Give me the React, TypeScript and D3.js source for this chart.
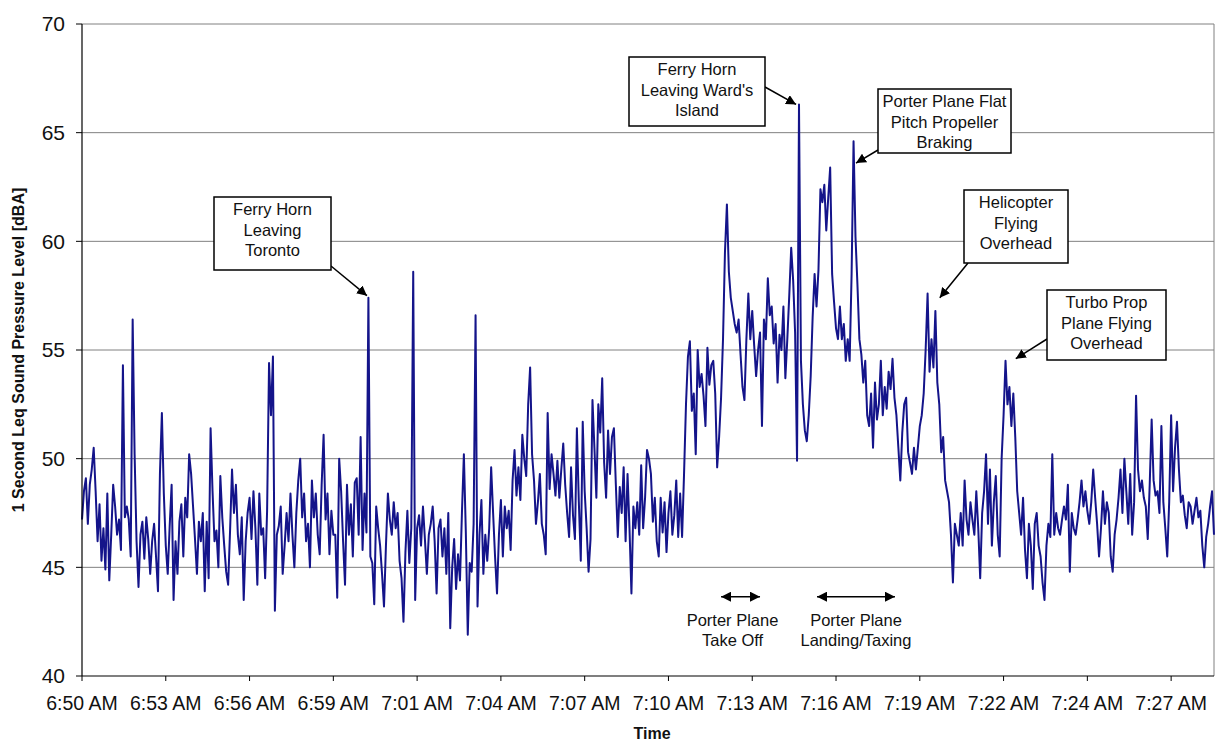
import * as d3 from 'd3';

// 1 s Leq readings, one value every 4 seconds from 6:50:00 AM
const STEP_SECONDS = 4;
const levels = [
  47.2, 48.5, 49.1, 47, 48.8, 49.5, 50.5, 48.5, 46.2, 47.9,
  45.3, 46.8, 44.9, 48.4, 44.4, 46.5, 48.8, 47.8, 46.5, 47.2,
  45.8, 54.3, 47.3, 47.8, 47.2, 45.5, 56.4, 50.2, 46.2, 44.1,
  46.5, 47.1, 45.4, 47.3, 46.3, 44.7, 46.2, 47, 45.5, 43.9,
  49.3, 52.1, 48.4, 46, 44.7, 46.9, 48.8, 43.5, 46.2, 44.7,
  47.1, 47.9, 45.5, 48.2, 47.3, 50.2, 49.3, 47.8, 46.3, 44.7,
  47.1, 46.2, 47.5, 43.9, 47.1,
  44.5, 51.4, 48.5, 46.2, 46.7, 45, 49.2, 47.3, 46, 44.8,
  44.2, 46.7, 49.5, 47.5, 48.8, 46.5, 45.6, 47.3, 43.5, 46.2,
  47.5, 48.2, 46.3, 48.5, 46.8, 44.2, 48.4, 46.5, 46.8, 44.5,
  47.6, 54.4, 52, 54.7, 43, 46.5, 46.9, 47.8, 44.7, 46,
  47.5, 46.2, 48.4, 46.5, 45, 47.5, 49, 50, 47.3, 48.4,
  46.2, 47, 45, 49, 47.3, 48.4, 46.5, 45.6, 48.8, 51.1,
  47.2, 48.4, 45.6, 47.6, 46.5,
  46.5, 43.6, 50, 48.5, 46.2, 44.2, 48.8, 46.5, 47.9, 45.5,
  48.9, 49.1, 46.5, 51, 45.8, 48.4, 46.6, 57.4, 45.5, 45.2,
  43.3, 47.8, 46.8, 46, 44.7, 43.2, 46, 48.4, 47.2, 46.5,
  48, 46.8, 47.5, 45.3, 44.5, 42.5, 45.7, 47.6, 45.2, 46.8,
  58.6, 43.5, 46.8, 47.4, 46, 47.8, 46.3, 44.7, 46.5, 47,
  47.8, 46.2, 43.8, 46.8, 47.2, 45.5, 46.8, 44.7, 47.5, 42.2,
  45, 46.3, 44, 45.6,
  44.4, 47.5, 50.2, 46.6, 41.9, 45.2, 44.8, 47, 56.6, 43.2,
  46.5, 48.1, 44.7, 46.5, 45.3, 46.8, 49.6, 47.5, 45.5, 43.8,
  46.5, 48.1, 45.5, 47.8, 46.8, 47.6, 45.8, 49, 50.4, 48.3,
  49.6, 48.1, 51.1, 50, 49.2, 52.5, 54.2, 50.2, 49, 47,
  48, 49.3, 47, 46.5, 45.6, 52.1, 48.6, 50.2, 49.3, 48.3,
  49.9, 48.2, 49.5, 50.7, 48.8, 47.5, 46.4, 49.6, 47.4, 46.3,
  51.4, 48, 45.3, 51.7, 48.5,
  46.8, 44.8, 46.3, 52.7, 50.5, 48.2, 52.5, 51.2, 53.7, 49.8,
  48.2, 51.3, 49.3, 51, 51.4, 48.8, 46.4, 48.7, 47.5, 49.6,
  46.2, 49.3, 46.8, 43.8, 47.8, 46.8, 48, 46.5, 49.7, 46.8,
  48.2, 50.4, 50, 49.3, 47.1, 48.2, 46.2, 45.5, 48.2, 46.6,
  48, 45.7, 47.5, 48.5, 46.5, 47.4, 49, 46.4, 48.4, 46.4,
  49.3, 52.5, 54.7, 55.4, 52.2, 53, 50.2, 55, 53.3, 53.9,
  52.9, 51.5, 55.1, 53.4, 54.3,
  54.5, 53, 49.6, 51, 52.8, 55.5, 59.5, 61.7, 58.6, 57.4,
  56.8, 56.2, 55.8, 56.4, 54.8, 53.3, 52.7, 55.5, 57.6, 55.5,
  56.8, 55.2, 53.8, 55, 55.8, 51.5, 56.4, 55.5, 58.3, 56.6,
  57, 55.3, 56.2, 53.5, 55.7, 55, 57, 53.7, 55.5, 57.5,
  59.7, 58.2, 55.8, 49.9, 66.3, 54.5, 52.5, 51.3, 50.8, 52,
  53.8, 56.5, 58.5, 57, 58.7, 62.4, 61.8, 62.6, 60.5, 62,
  63.4, 58.5, 57.2, 56, 55.5,
  57, 55.5, 56.2, 54.5, 55.5, 54.5, 58.5, 64.6, 60.2, 58,
  55.5, 54.8, 53.5, 54.5, 52, 51.5, 53, 50.5, 53.5, 51.8,
  52.5, 54.5, 52, 53.3, 52.3, 54, 53.2, 54.6, 52.8, 52,
  50.5, 49, 51.2, 52.5, 52.8, 50.3, 49.8, 49.3, 50.5, 49.5,
  50.5, 51.5, 52, 53, 55, 57.6, 54, 55.5, 54.2, 56.8,
  53.5, 52.5, 50.3, 51, 49, 48.5, 48, 46.5, 44.3, 47,
  46.5, 46, 47.5, 46,
  49, 47.2, 46.5, 48, 47.2, 46.5, 48.5, 46.8, 44.5, 47.5,
  48.5, 50.2, 47, 49.5, 46, 48, 49.2, 46.5, 45.5, 50,
  52, 54.5, 52.5, 53.3, 51.5, 53, 51, 48.5, 47.5, 46.5,
  48.2, 45.8, 44.5, 47, 46, 44, 47, 47.5, 46, 45.5,
  44.3, 43.5, 46, 47, 46.4, 50.2, 46.5, 47.5, 46.8, 46.5,
  47.2, 47.8, 47.2, 48.8, 44.8, 47.5, 46.8, 46.5, 47.2, 48,
  49, 47.8, 48.5, 47.6, 47,
  48, 49.5, 48.2, 47, 45.5, 46.8, 48.5, 47, 48, 47.5,
  45.5, 44.8, 46.5, 47.2, 48.2, 49.5, 47.5, 50, 48.5, 47,
  49.3, 46.5, 48, 52.9, 49.5, 48.5, 49, 48.2, 47.8, 46.3,
  48.8, 51.8, 49, 48.3, 48.5, 47.5, 51.5, 48, 46.8, 45.5,
  48, 52, 48.5, 50.5, 51.7, 49.5, 48, 48.3, 47.4, 46.8,
  48, 47.8, 47, 47.6, 48.2, 47.3, 47.6, 46, 45, 46.4,
  47, 47.8, 48.5, 46.5,
];

const timeLabels = [
  '6:50 AM', '6:53 AM', '6:56 AM', '6:59 AM', '7:01 AM', '7:04 AM', '7:07 AM',
  '7:10 AM', '7:13 AM', '7:16 AM', '7:19 AM', '7:22 AM', '7:24 AM', '7:27 AM',
];
const TICK_SECONDS = 172;
const levelTicks = [40, 45, 50, 55, 60, 65, 70];

// callout texts and the (seconds, dBA) point each arrow points at
const calloutTexts = [
  ['Ferry Horn', 'Leaving', 'Toronto'],
  ['Ferry Horn', "Leaving Ward's", 'Island'],
  ['Porter Plane Flat', 'Pitch Propeller', 'Braking'],
  ['Helicopter', 'Flying', 'Overhead'],
  ['Turbo Prop', 'Plane Flying', 'Overhead'],
];
const calloutTargets: [number, number][] = [
  [585, 57.5], [1466, 66.3], [1589, 63.6], [1761, 57.4], [1917, 54.6],
];
const spanTexts = [
  ['Porter Plane', 'Take Off'],
  ['Porter Plane', 'Landing/Taxing'],
];
const spanSeconds: [number, number][] = [[1312, 1392], [1509, 1669]];

// layout of the callout boxes (px)
const calloutBoxes = [
  { x: 214, y: 197, w: 117, h: 73, ax: 331, ay: 266 },
  { x: 629, y: 57, w: 136, h: 69, ax: 765, ay: 87 },
  { x: 878, y: 89, w: 133, h: 64, ax: 878, ay: 150 },
  { x: 964, y: 190, w: 104, h: 73, ax: 968, ay: 263 },
  { x: 1047, y: 290, w: 119, h: 70, ax: 1047, ay: 339 },
];

const W = 1216;
const H = 744;
const margin = { top: 24, right: 2, bottom: 68, left: 82 };
const FONT = '"Liberation Sans", Arial, Helvetica, sans-serif';

export default function App() {
  const innerW = W - margin.left - margin.right;
  const innerH = H - margin.top - margin.bottom;

  const x = d3.scaleLinear()
    .domain([0, (levels.length - 1) * STEP_SECONDS])
    .range([margin.left, margin.left + innerW]);
  const y = d3.scaleLinear().domain([40, 70]).range([margin.top + innerH, margin.top]);

  const line = d3.line<number>()
    .x((_d, i) => x(i * STEP_SECONDS))
    .y(d => y(d));

  const x0 = margin.left;
  const x1 = margin.left + innerW;
  const yBottom = y(40);

  return (
    <svg width={W} height={H} style={{ position: 'absolute', left: 0, top: 0, background: '#fff' }}
      fontFamily={FONT}>
      <defs>
        <marker id="head" viewBox="0 0 10 10" refX="10" refY="5" markerWidth="10" markerHeight="10"
          markerUnits="userSpaceOnUse" orient="auto-start-reverse">
          <path d="M0,0 L10,5 L0,10 z" fill="#000" />
        </marker>
      </defs>

      {/* gridlines */}
      {levelTicks.filter(t => t > 40).map(t => (
        <line key={t} x1={x0} x2={x1} y1={y(t)} y2={y(t)} stroke="#808080" strokeWidth={1} />
      ))}
      <line x1={x1} x2={x1} y1={y(70)} y2={yBottom} stroke="#808080" strokeWidth={1} />

      {/* series */}
      <path d={line(levels) ?? ''} fill="none" stroke="#14148a" strokeWidth={2}
        strokeLinejoin="round" />

      {/* axes */}
      <line x1={x0} x2={x0} y1={y(70)} y2={yBottom} stroke="#000" strokeWidth={1.2} />
      <line x1={x0} x2={x1} y1={yBottom} y2={yBottom} stroke="#000" strokeWidth={1.2} />
      {levelTicks.map(t => (
        <g key={t}>
          <line x1={x0 - 6} x2={x0} y1={y(t)} y2={y(t)} stroke="#000" />
          <text x={x0 - 17} y={y(t)} dy="0.35em" textAnchor="end" fontSize={21} fill="#111">{t}</text>
        </g>
      ))}
      {timeLabels.map((label, i) => (
        <g key={label}>
          <line x1={x(i * TICK_SECONDS)} x2={x(i * TICK_SECONDS)} y1={yBottom} y2={yBottom + 5} stroke="#000" />
          <text x={x(i * TICK_SECONDS)} y={yBottom + 34} textAnchor="middle" fontSize={19.5} fill="#111">{label}</text>
        </g>
      ))}

      <text x={(x0 + x1) / 2 + 4} y={739} textAnchor="middle" fontSize={16} fontWeight="bold" fill="#111">Time</text>
      <text transform={`translate(24,${(y(40) + y(70)) / 2}) rotate(-90)`} textAnchor="middle"
        fontSize={16} fontWeight="bold" fill="#111">1 Second Leq Sound Pressure Level [dBA]</text>

      {/* callouts */}
      {calloutTexts.map((lines, i) => {
        const b = calloutBoxes[i];
        const [ts, lv] = calloutTargets[i];
        return (
          <g key={i}>
            <line x1={b.ax} y1={b.ay} x2={x(ts)} y2={y(lv)} stroke="#000" strokeWidth={1.5} markerEnd="url(#head)" />
            <rect x={b.x} y={b.y} width={b.w} height={b.h} fill="#fff" stroke="#000" strokeWidth={1.5} />
            {lines.map((t, j) => (
              <text key={j} x={b.x + b.w / 2} y={b.y + 18 + j * 20.5} textAnchor="middle" fontSize={16.5} fill="#111">{t}</text>
            ))}
          </g>
        );
      })}

      {/* spans below the series */}
      {spanTexts.map((lines, i) => {
        const [a, b] = spanSeconds[i];
        const cy = y(43.65);
        const cx = (x(a) + x(b)) / 2;
        return (
          <g key={i}>
            <line x1={x(a)} x2={x(b)} y1={cy} y2={cy} stroke="#000" strokeWidth={1.5}
              markerStart="url(#head)" markerEnd="url(#head)" />
            {lines.map((t, j) => (
              <text key={j} x={cx - (i === 0 ? 8 : 0)} y={cy + 29 + j * 20} textAnchor="middle" fontSize={16.5} fill="#111">{t}</text>
            ))}
          </g>
        );
      })}
    </svg>
  );
}
